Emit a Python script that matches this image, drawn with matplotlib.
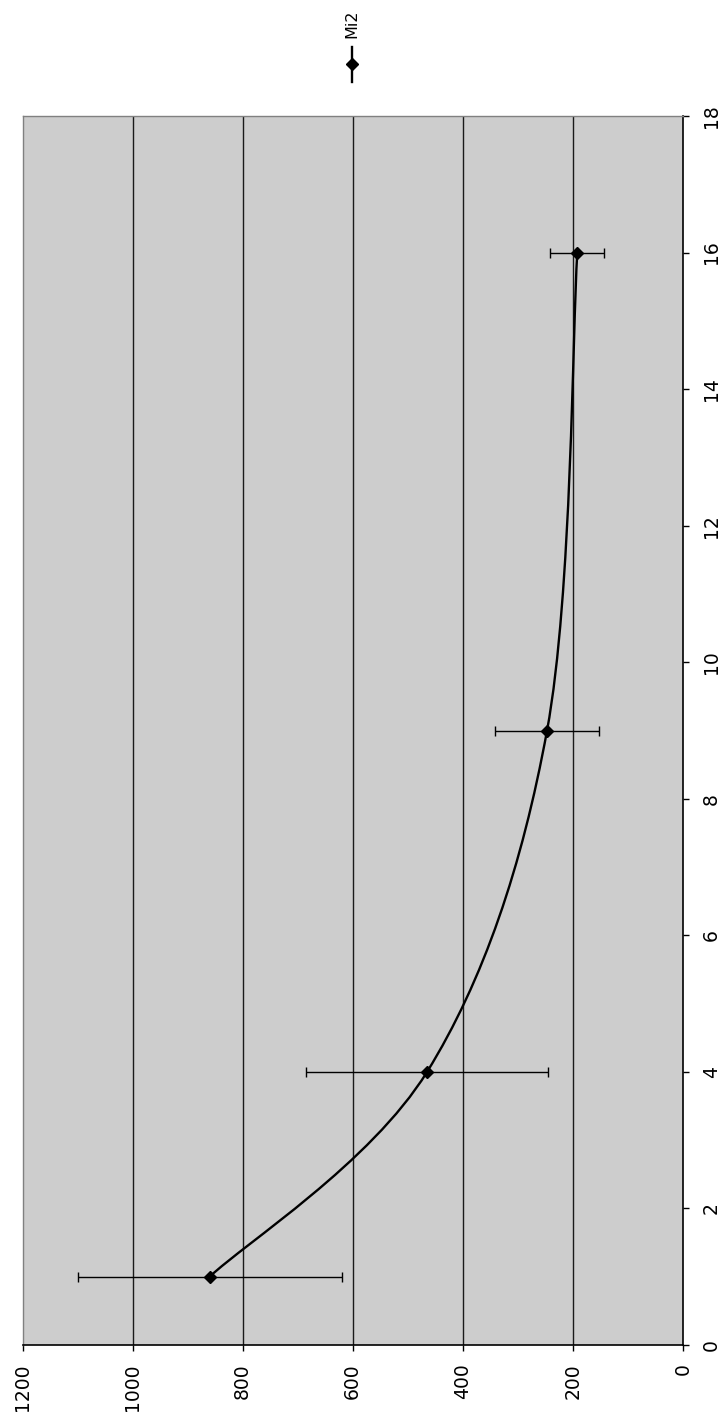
import matplotlib
matplotlib.use("Agg")
import matplotlib.pyplot as plt
from matplotlib.path import Path
from matplotlib.patches import PathPatch
from matplotlib.lines import Line2D
import numpy as np

# Data (chart is displayed rotated 90 degrees: x-values run vertically, values horizontally)
series_name = "Mi2"
x_vals = [1, 4, 9, 16]
y_vals = [860, 465, 247, 192]
y_err = [240, 220, 95, 49]
value_ticks = [0, 200, 400, 600, 800, 1000, 1200]
x_ticks = [0, 2, 4, 6, 8, 10, 12, 14, 16, 18]

W, H = 725, 1421
fig = plt.figure(figsize=(W / 100, H / 100), dpi=100)
fig.patch.set_facecolor("white")

left, right, top, bottom = 22.5, 683, 116, 1345
ax = fig.add_axes([left / W, (H - bottom) / H, (right - left) / W, (bottom - top) / H])
ax.set_facecolor("#cdcdcd")

ax.set_xlim(1200, 0)
ax.set_ylim(0, 18)

# gridlines (horizontal value gridlines in the original orientation)
for v in value_ticks[1:-1]:
    ax.axvline(v, color="#1a1a1a", lw=1.0, zorder=1)

# smoothed line (Excel-style Bezier smoothing through the data points)
pts = np.column_stack([y_vals, x_vals]).astype(float)
n = len(pts)
verts = [pts[0]]
codes = [Path.MOVETO]
for i in range(n - 1):
    p_prev = pts[max(i - 1, 0)]
    p0 = pts[i]
    p1 = pts[i + 1]
    p_next = pts[min(i + 2, n - 1)]
    c1 = p0 + (p1 - p_prev) / 6.0
    c2 = p1 - (p_next - p0) / 6.0
    verts += [c1, c2, p1]
    codes += [Path.CURVE4, Path.CURVE4, Path.CURVE4]
ax.add_patch(PathPatch(Path(verts, codes), facecolor="none", edgecolor="black",
                       lw=1.7, zorder=3, capstyle="round", joinstyle="round"))

ax.errorbar(y_vals, x_vals, xerr=y_err, fmt="none", ecolor="black",
            elinewidth=1.0, capsize=3.6, capthick=1.0, zorder=4)
ax.plot(y_vals, x_vals, linestyle="none", marker="D", markersize=6,
        color="black", zorder=5)

# ticks
ax.set_xticks(value_ticks)
ax.set_xticklabels([str(v) for v in value_ticks], rotation=90)
ax.set_yticks(x_ticks)
ax.set_yticklabels([str(v) for v in x_ticks], rotation=90, va="center")
ax.yaxis.tick_right()
ax.tick_params(axis="x", direction="out", length=4, width=1, pad=9,
               labelsize=13.5, color="black")
ax.tick_params(axis="y", direction="out", length=4.5, width=1, pad=9,
               labelsize=13.5, color="black")

for s in ["left", "top"]:
    ax.spines[s].set_color("#808080")
    ax.spines[s].set_linewidth(1.0)
for s in ["bottom", "right"]:
    ax.spines[s].set_color("black")
    ax.spines[s].set_linewidth(1.2)

# legend (rotated)
lx = 352 / W
fig.add_artist(Line2D([lx, lx], [(H - 47) / H, (H - 82) / H], color="black",
                      lw=1.7, transform=fig.transFigure))
fig.add_artist(Line2D([lx], [(H - 64) / H], marker="D", markersize=6,
                      color="black", linestyle="none", transform=fig.transFigure))
fig.text(lx, (H - 24) / H, series_name, rotation=90, ha="center", va="center",
         fontsize=11.5)

fig.savefig("out.png", dpi=100)
